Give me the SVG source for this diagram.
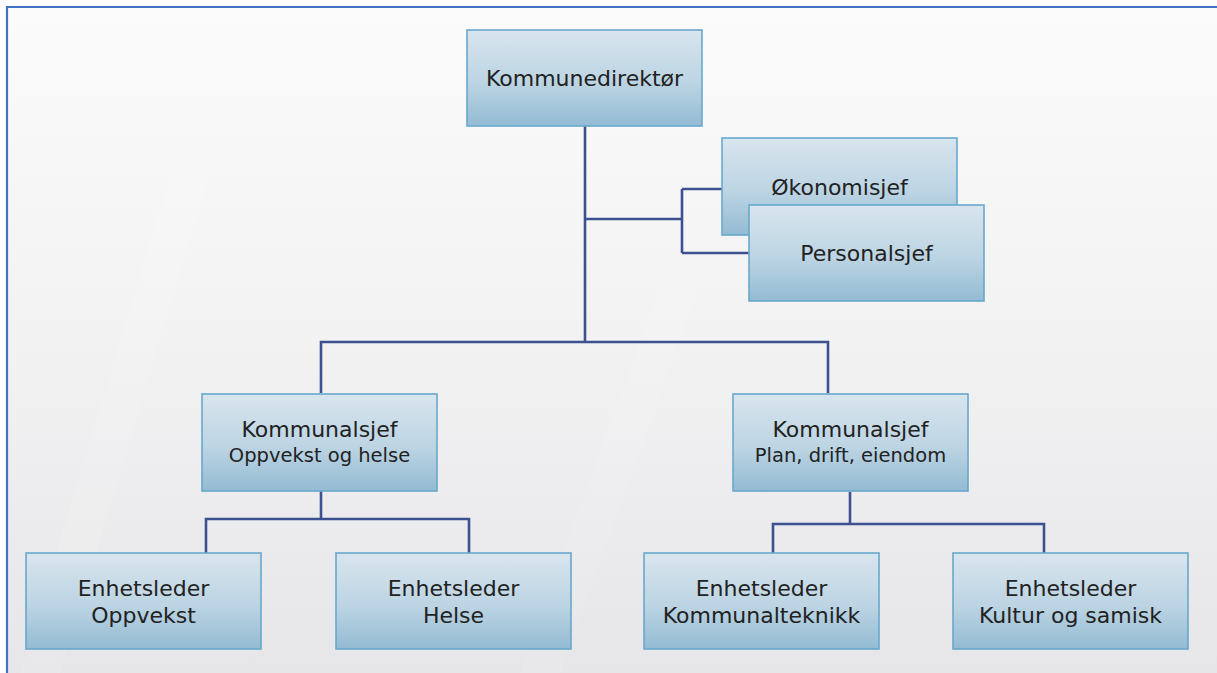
<svg xmlns="http://www.w3.org/2000/svg" width="1217" height="673" viewBox="0 0 1217 673">
  <defs>
    <linearGradient id="bg" x1="0" y1="0" x2="0" y2="1">
      <stop offset="0" stop-color="#fbfbfb"/>
      <stop offset="0.5" stop-color="#f2f2f3"/>
      <stop offset="1" stop-color="#e6e6e9"/>
    </linearGradient>
    <linearGradient id="box" x1="0" y1="0" x2="0" y2="1">
      <stop offset="0" stop-color="#d8e5ee"/>
      <stop offset="0.55" stop-color="#bcd4e3"/>
      <stop offset="1" stop-color="#93bbd3"/>
    </linearGradient>
    <style>
      .node rect { fill: url(#box); stroke: #68a8cb; stroke-width: 1.6; }
      .node text { font-family: "DejaVu Sans", "Liberation Sans", sans-serif; fill: #222222; text-anchor: middle; font-size: 22px; }
      .node text.sub { font-size: 19.5px; }
      .conn path { fill: none; stroke: #3d5090; stroke-width: 2.6; stroke-linejoin: miter; }
    </style>
  </defs>
  <rect x="0" y="0" width="1217" height="673" fill="#ffffff"/>
  <rect x="7" y="7" width="1212" height="668" fill="url(#bg)"/>
  <polygon points="220,8 260,8 60,673 20,673" fill="#ffffff" opacity="0.1"/>
  <polygon points="760,8 800,8 560,673 520,673" fill="#ffffff" opacity="0.08"/>
  <path d="M7,673 V7 H1217" fill="none" stroke="#4472c4" stroke-width="2.2"/>

  <g class="conn" id="connectors">
    <path d="M585,126 V342"/>
    <path d="M585,219 H682"/>
    <path d="M682,189 V253"/>
    <path d="M682,189 H722"/>
    <path d="M682,253 H749"/>
    <path d="M321,393 V342 H828 V393"/>
    <path d="M321,491 V519"/>
    <path d="M206,553 V519 H469 V553"/>
    <path d="M850,492 V524"/>
    <path d="M773,553 V524 H1044 V553"/>
  </g>

  <g class="node" id="kommunedirektor">
    <rect x="467" y="30" width="235" height="96"/>
    <text x="584.5" y="86">Kommunedirektør</text>
  </g>
  <g class="node" id="okonomisjef">
    <rect x="722" y="138" width="235" height="97"/>
    <text x="839.5" y="195">Økonomisjef</text>
  </g>
  <g class="node" id="personalsjef">
    <rect x="749" y="205" width="235" height="96"/>
    <text x="866.5" y="261">Personalsjef</text>
  </g>
  <g class="node" id="kommunalsjef-oppvekst">
    <rect x="202" y="394" width="235" height="97"/>
    <text x="319.5" y="437">Kommunalsjef</text>
    <text class="sub" x="319.5" y="462">Oppvekst og helse</text>
  </g>
  <g class="node" id="kommunalsjef-plan">
    <rect x="733" y="394" width="235" height="97"/>
    <text x="850.5" y="437">Kommunalsjef</text>
    <text class="sub" x="850.5" y="462">Plan, drift, eiendom</text>
  </g>
  <g class="node" id="enhet-oppvekst">
    <rect x="26" y="553" width="235" height="96"/>
    <text x="143.5" y="596">Enhetsleder</text>
    <text x="143.5" y="623">Oppvekst</text>
  </g>
  <g class="node" id="enhet-helse">
    <rect x="336" y="553" width="235" height="96"/>
    <text x="453.5" y="596">Enhetsleder</text>
    <text x="453.5" y="623">Helse</text>
  </g>
  <g class="node" id="enhet-kommunalteknikk">
    <rect x="644" y="553" width="235" height="96"/>
    <text x="761.5" y="596">Enhetsleder</text>
    <text x="761.5" y="623">Kommunalteknikk</text>
  </g>
  <g class="node" id="enhet-kultur">
    <rect x="953" y="553" width="235" height="96"/>
    <text x="1070.5" y="596">Enhetsleder</text>
    <text x="1070.5" y="623">Kultur og samisk</text>
  </g>
</svg>
